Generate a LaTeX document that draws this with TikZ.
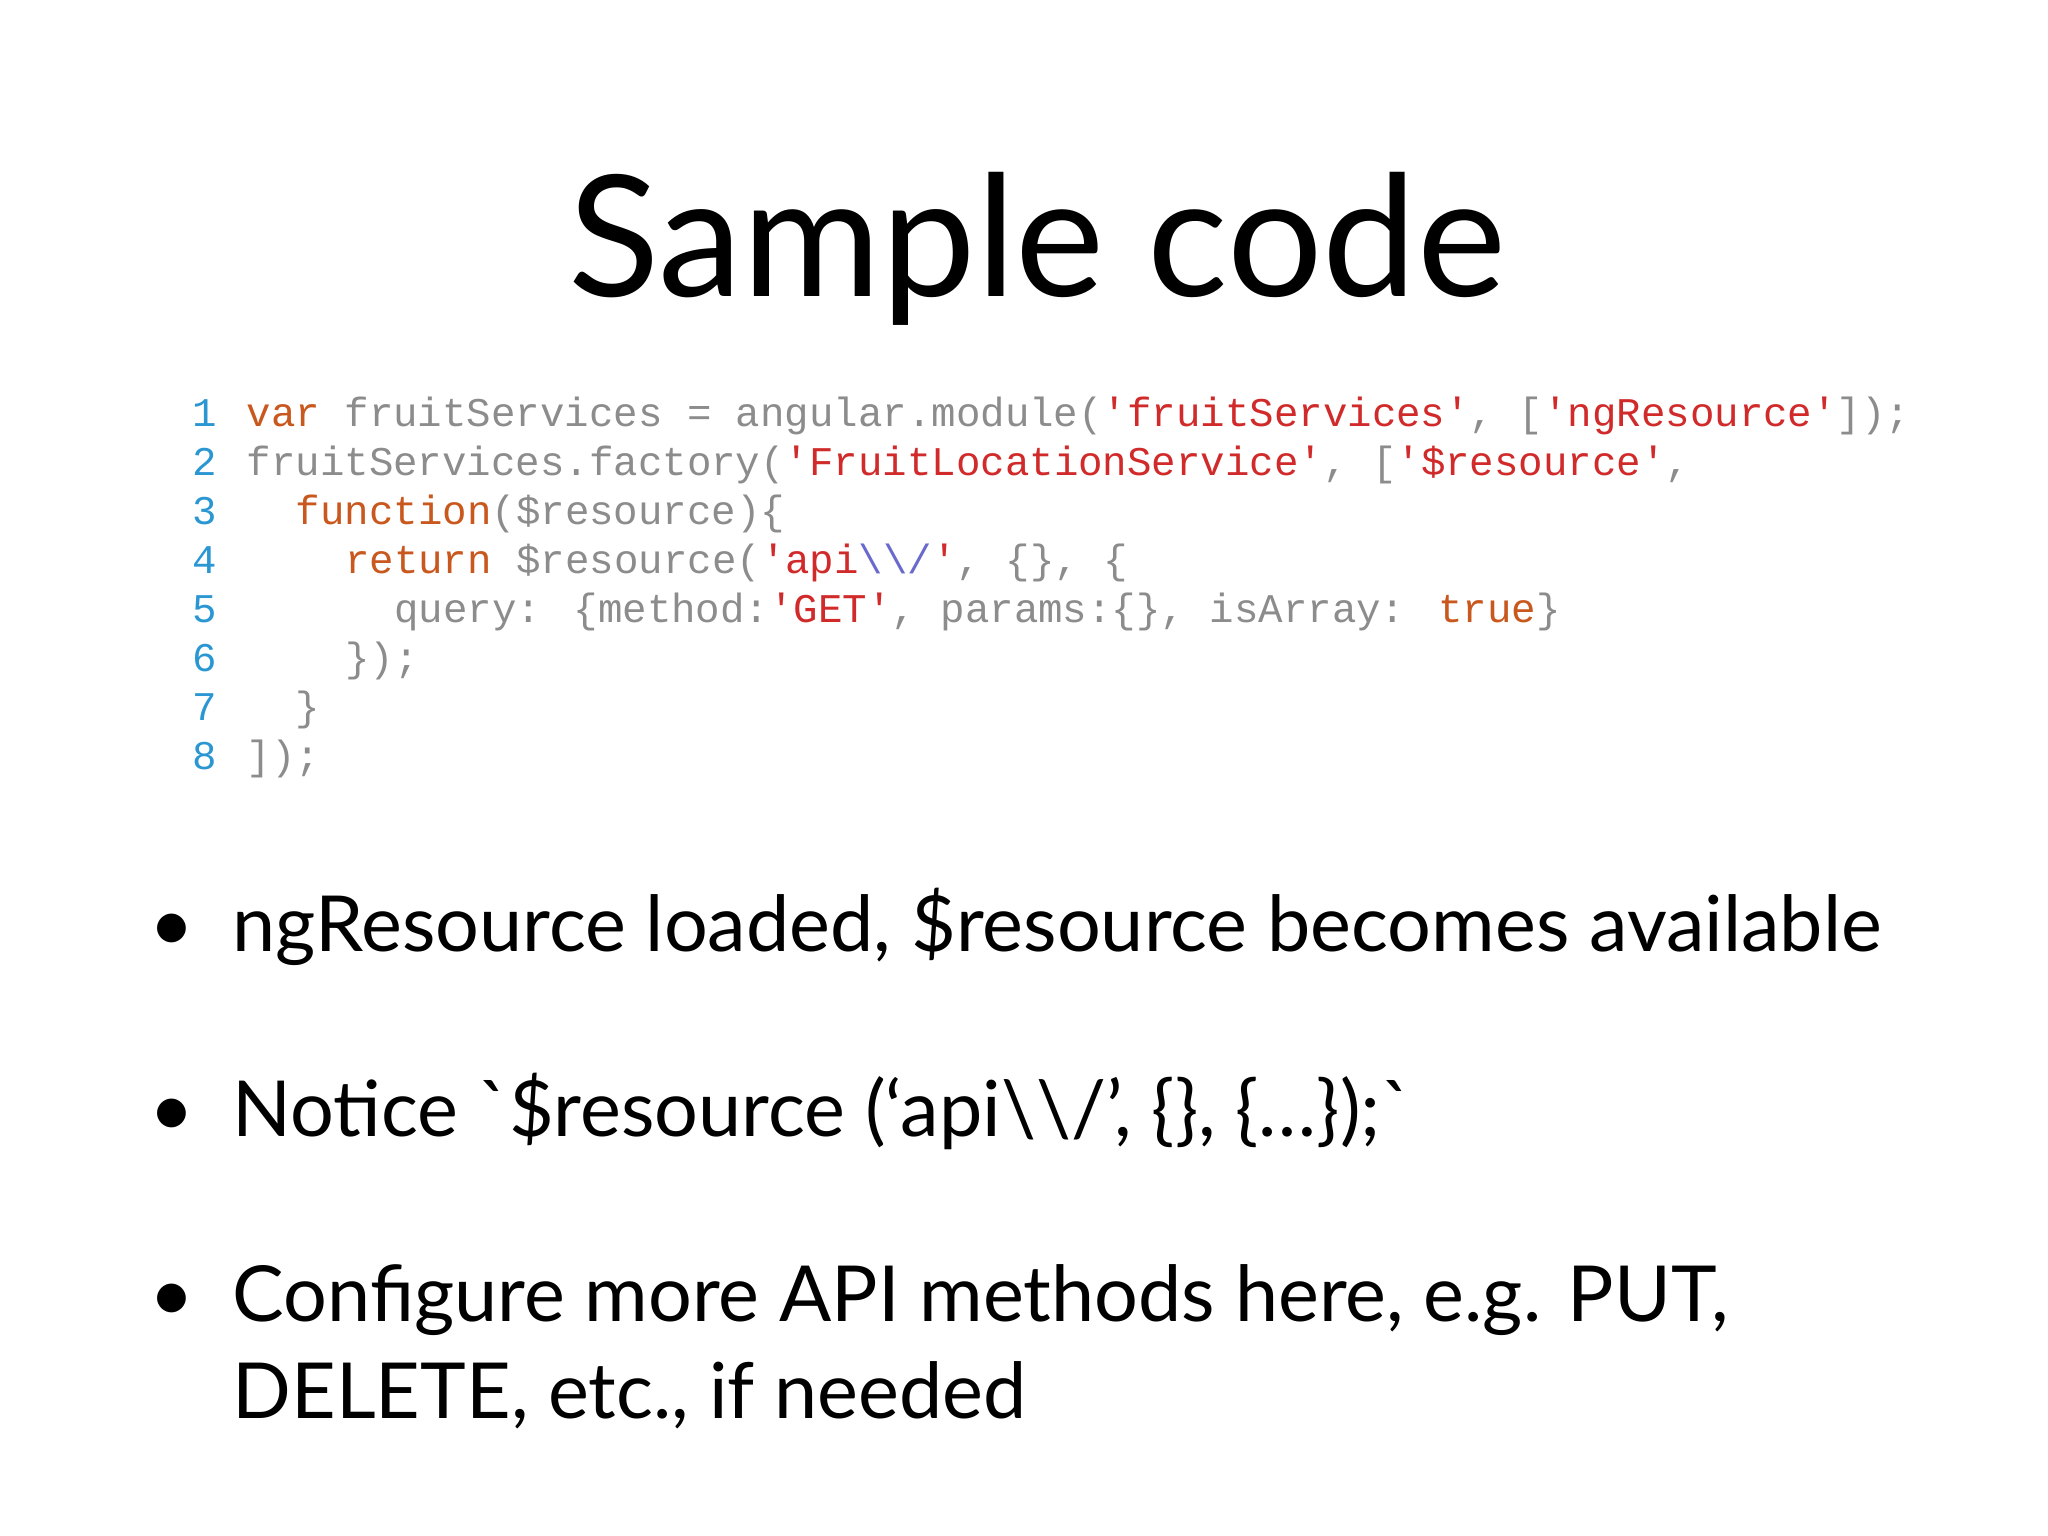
\documentclass[tikz,border=0pt]{standalone}
\usepackage{fontspec}
\newfontfamily\slidefont{Lato}
\newfontfamily\codefont{Liberation Mono}
\definecolor{kwcol}{HTML}{C8581E}
\definecolor{stcol}{HTML}{D12A2A}
\definecolor{pucol}{HTML}{8C8C8C}
\definecolor{recol}{HTML}{6A6ACD}
\definecolor{nucol}{HTML}{2A96D2}
\newcommand{\kw}[1]{\textcolor{kwcol}{#1}}
\newcommand{\st}[1]{\textcolor{stcol}{#1}}
\newcommand{\re}[1]{\textcolor{recol}{#1}}
\tikzset{
  codeline/.style={anchor=base west, inner sep=0pt, text=pucol, font=\codefont\fontsize{11.6}{14}\selectfont},
  lineno/.style={anchor=base east, inner sep=0pt, text=nucol, font=\codefont\fontsize{11.6}{14}\selectfont},
  bullet/.style={anchor=base west, inner sep=0pt, font=\slidefont\fontsize{22}{26}\selectfont},
}
\begin{document}
\begin{tikzpicture}[x=1cm, y=-1cm]
	\useasboundingbox (0,0) rectangle (20.48,15.36);
	% title
	\node[anchor=base, inner sep=0pt, font=\slidefont\fontsize{48}{56}\selectfont] (title) at (10.37,2.97) {Sample code};
	% line numbers
	\foreach \n in {1,...,8}
		\node[lineno] (no\n) at (2.18,{4.27+(\n-1)*0.489}) {\n};
	% code
	\node[codeline] (code1) at (2.46,4.27)  {\kw{var} fruitServices = angular.module(\st{'fruitServices'}, [\st{'ngResource'}]);};
	\node[codeline] (code2) at (2.46,4.759) {fruitServices.factory(\st{'FruitLocationService'}, [\st{'\$resource'},};
	\node[codeline] (code3) at (2.952,5.248) {\kw{function}(\$resource)\{};
	\node[codeline] (code4) at (3.444,5.737) {\kw{return} \$resource(\st{'api}\re{\textbackslash\textbackslash/}\st{'}, \{\}, \{};
	\node[codeline] (code5) at (3.936,6.226) {query: \{method:\st{'GET'}, params:\{\}, isArray: \kw{true}\}};
	\node[codeline] (code6) at (3.444,6.715) {\});};
	\node[codeline] (code7) at (2.952,7.204) {\}};
	\node[codeline] (code8) at (2.46,7.693) {]);};
	% bullets
	\foreach \y/\name in {9.51/b1, 11.36/b2, 13.21/b3}
		\node[bullet, anchor=base] (\name dot) at (1.72,\y) {•};
	\node[bullet] (b1) at (2.32,9.51)  {ngResource loaded, \$resource becomes available};
	\node[bullet] (b2) at (2.32,11.36) {Notice `\$resource (‘api\textbackslash\textbackslash/’, \{\}, \{…\});`};
	\node[bullet] (b3) at (2.32,13.21) {Configure more API methods here, e.g. PUT,};
	\node[bullet] (b3b) at (2.32,14.18) {DELETE, etc., if needed};
\end{tikzpicture}
\end{document}
